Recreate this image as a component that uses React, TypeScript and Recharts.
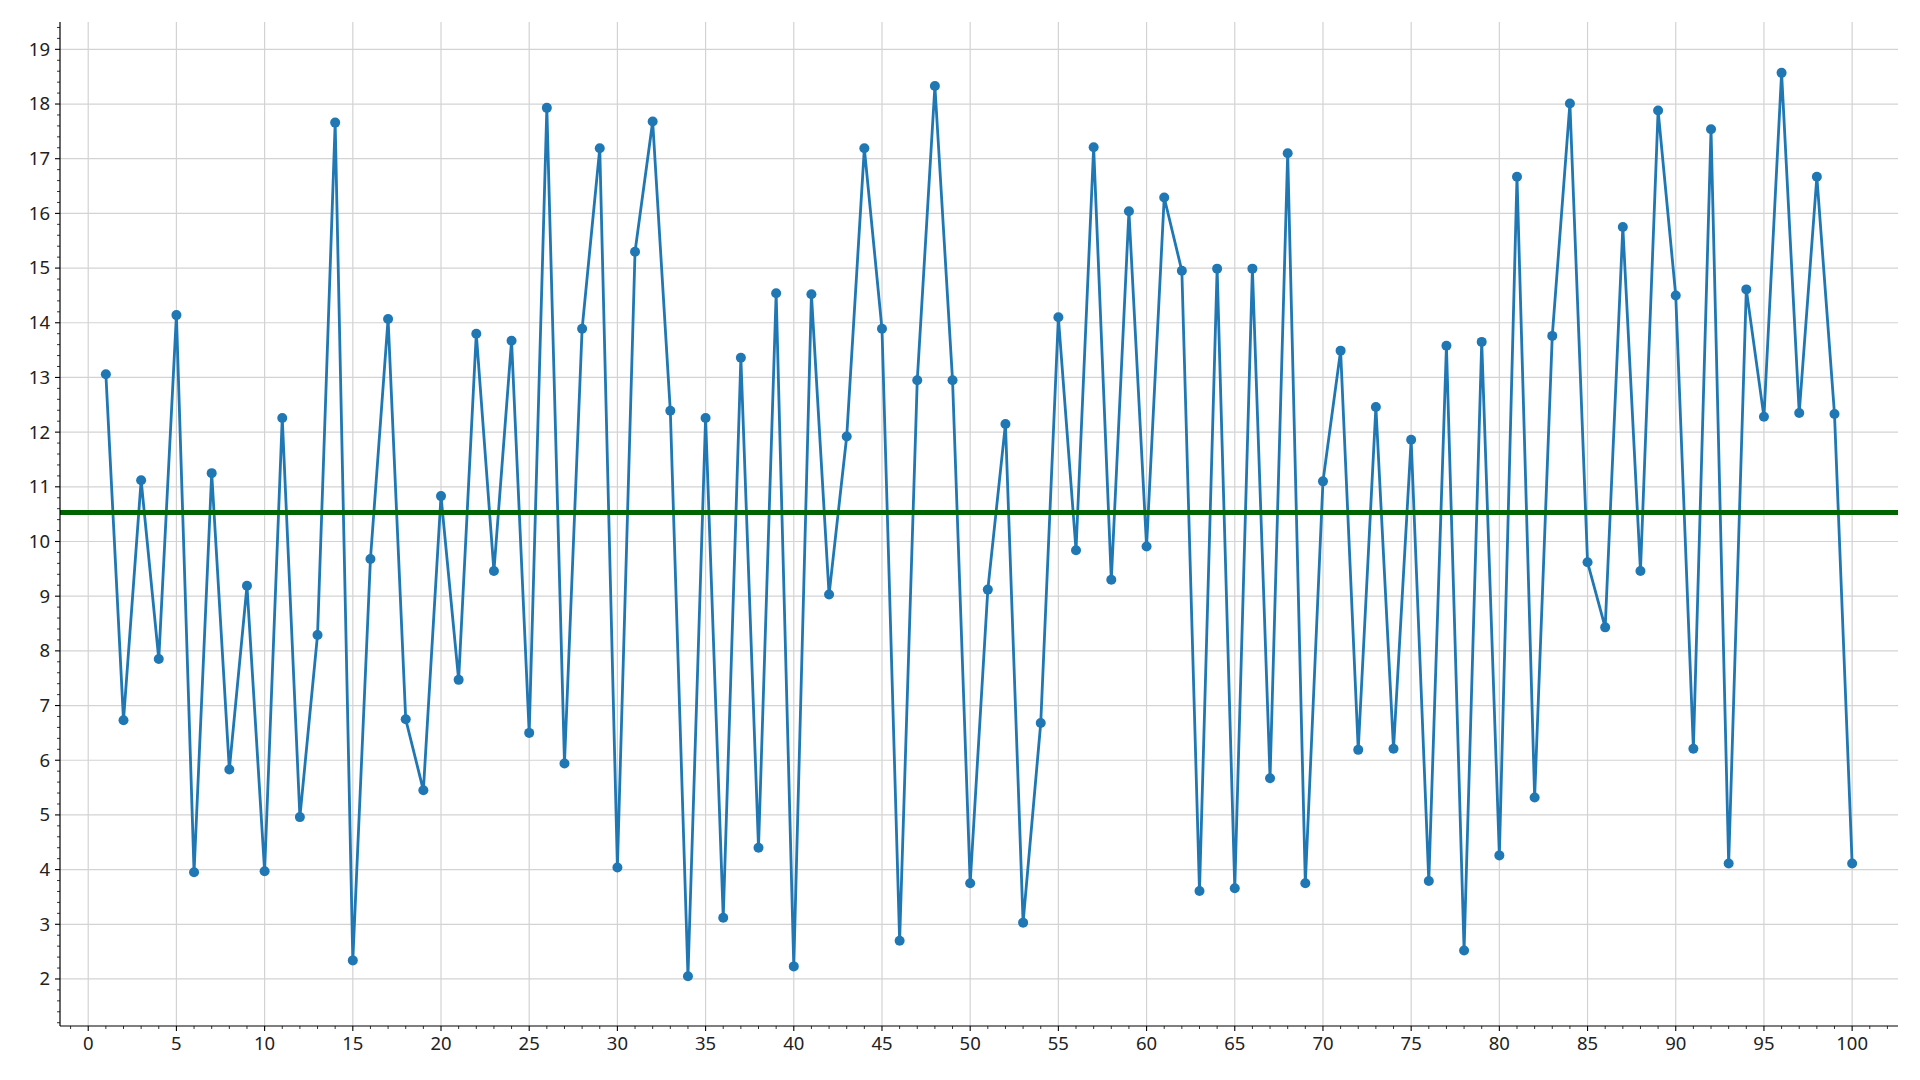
import { LineChart, Line, XAxis, YAxis, CartesianGrid, ReferenceLine } from 'recharts'

// y value of each sample, x runs 1..100
const VALUES = [
  13.06, 6.73, 11.12, 7.85, 14.14, 3.95, 11.25, 5.83, 9.19, 3.97,
  12.26, 4.96, 8.29, 17.66, 2.34, 9.68, 14.07, 6.75, 5.45, 10.83,
  7.47, 13.8, 9.46, 13.67, 6.5, 17.93, 5.94, 13.89, 17.19, 4.04,
  15.3, 17.68, 12.39, 2.05, 12.26, 3.12, 13.36, 4.4, 14.54, 2.23,
  14.52, 9.03, 11.92, 17.19, 13.89, 2.7, 12.95, 18.33, 12.95, 3.75,
  9.12, 12.15, 3.03, 6.68, 14.1, 9.84, 17.21, 9.3, 16.04, 9.91,
  16.29, 14.95, 3.61, 14.99, 3.66, 14.99, 5.67, 17.1, 3.75, 11.1,
  13.49, 6.19, 12.46, 6.21, 11.86, 3.79, 13.58, 2.52, 13.65, 4.26,
  16.67, 5.32, 13.76, 18.01, 9.62, 8.43, 15.75, 9.46, 17.88, 14.5,
  6.21, 17.54, 4.11, 14.61, 12.28, 18.57, 12.35, 16.67, 12.33, 4.11,
]
const MEAN = 10.53

const X_MAJOR = [0, 5, 10, 15, 20, 25, 30, 35, 40, 45, 50, 55, 60, 65, 70, 75, 80, 85, 90, 95, 100]
const Y_MAJOR = [2, 3, 4, 5, 6, 7, 8, 9, 10, 11, 12, 13, 14, 15, 16, 17, 18, 19]
const X_TICKS = Array.from({ length: 104 }, (_, i) => i - 1)
const Y_TICKS = Array.from({ length: 92 }, (_, i) => Math.round((1.2 + i * 0.2) * 10) / 10)

const X_DOMAIN = [-1.6, 102.6]
const Y_DOMAIN = [1.14, 19.5]

const data = VALUES.map((v, i) => ({ x: i + 1, y: v }))

const FONT = '"Noto Sans", "Open Sans", sans-serif'
const FONT_SIZE = 18.5
const isMajor = (v: number) => Math.abs(v - Math.round(v)) < 1e-6

function XTick({ x, y, payload }: any) {
  const v = payload.value
  const major = v % 5 === 0
  return (
    <g>
      <line x1={x} x2={x} y1={y} y2={y + (major ? 5 : 3)} stroke="#000" strokeWidth={major ? 1.1 : 0.8} />
      {major && (
        <text x={x} y={y + 24} textAnchor="middle" fontFamily={FONT} fontSize={FONT_SIZE} fill="#222">
          {v}
        </text>
      )}
    </g>
  )
}

function YTick({ x, y, payload }: any) {
  const v = payload.value
  const major = isMajor(v) && v >= 2
  return (
    <g>
      <line x1={x - (major ? 5 : 3)} x2={x} y1={y} y2={y} stroke="#000" strokeWidth={major ? 1.1 : 0.8} />
      {major && (
        <text x={x - 10} y={y + 6.4} textAnchor="end" fontFamily={FONT} fontSize={FONT_SIZE} fill="#222">
          {Math.round(v)}
        </text>
      )}
    </g>
  )
}

export default function App() {
  return (
    <div style={{ position: 'absolute', left: 0, top: 0, width: 1920, height: 1080, background: '#fff' }}>
      <LineChart width={1920} height={1080} data={data} margin={{ top: 22, right: 22, bottom: 0, left: 0 }}>
        <CartesianGrid stroke="#d3d3d3" strokeWidth={1.2} verticalValues={X_MAJOR} horizontalValues={Y_MAJOR} />
        <XAxis
          dataKey="x"
          type="number"
          domain={X_DOMAIN}
          allowDataOverflow
          ticks={X_TICKS}
          interval={0}
          tickSize={0}
          tickMargin={0}
          tickLine={false}
          tick={<XTick />}
          axisLine={{ stroke: '#000', strokeWidth: 1.2 }}
          height={54}
        />
        <XAxis
          xAxisId="top"
          orientation="top"
          type="number"
          domain={X_DOMAIN}
          allowDataOverflow
          height={0}
          tick={false}
          tickLine={false}
          axisLine={{ stroke: '#000', strokeWidth: 1.2 }}
        />
        <YAxis
          type="number"
          domain={Y_DOMAIN}
          allowDataOverflow
          ticks={Y_TICKS}
          interval={0}
          tickSize={0}
          tickMargin={0}
          tickLine={false}
          tick={<YTick />}
          axisLine={{ stroke: '#000', strokeWidth: 1.2 }}
          width={60}
        />
        <YAxis
          yAxisId="right"
          orientation="right"
          type="number"
          domain={Y_DOMAIN}
          allowDataOverflow
          width={0}
          tick={false}
          tickLine={false}
          axisLine={{ stroke: '#000', strokeWidth: 1.2 }}
        />
        <Line
          type="linear"
          dataKey="y"
          stroke="#1f77b4"
          strokeWidth={2.8}
          dot={{ r: 5, fill: '#1f77b4', stroke: 'none' }}
          activeDot={false}
          isAnimationActive={false}
        />
        <ReferenceLine y={MEAN} stroke="#006400" strokeWidth={5} />
      </LineChart>
    </div>
  )
}
